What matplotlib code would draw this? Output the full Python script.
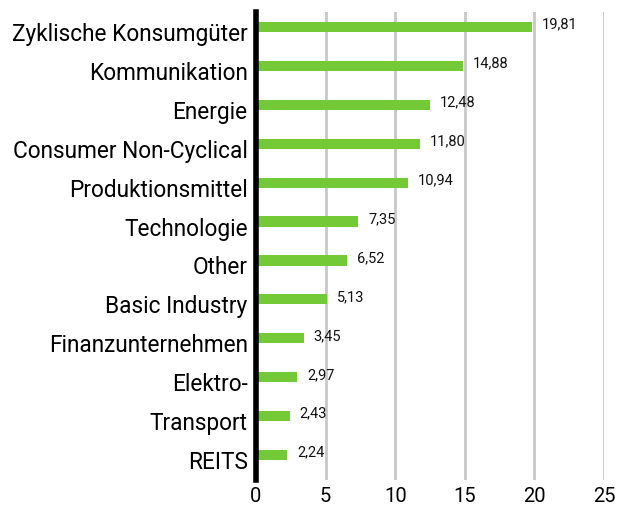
import matplotlib
matplotlib.use("Agg")
import matplotlib.pyplot as plt
import matplotlib.transforms as mtransforms

categories = ["Zyklische Konsumgüter", "Kommunikation", "Energie", "Consumer Non-Cyclical",
              "Produktionsmittel", "Technologie", "Other", "Basic Industry",
              "Finanzunternehmen", "Elektro-", "Transport", "REITS"]
values = [19.81, 14.88, 12.48, 11.80, 10.94, 7.35, 6.52, 5.13, 3.45, 2.97, 2.43, 2.24]
xticks = [0, 5, 10, 15, 20, 25]

plt.rcParams['font.family'] = ['Roboto', 'DejaVu Sans']

fig = plt.figure(figsize=(6.17, 5.08), dpi=100)
ax = fig.add_axes([256/617, 1-480/508, (604-256)/617, (480-12)/508])

n = len(categories)
ypos = list(range(n))[::-1]
ax.barh(ypos, values, height=0.26, color="#74C936", zorder=3)
for y, v in zip(ypos, values):
    ax.text(v + 0.7, y + 0.06, f"{v:.2f}".replace(".", ","), va="center", ha="left",
            fontsize=10.5, color="#111111")

ax.set_xlim(0, 25)
ax.set_ylim(-0.643, n - 1 + 0.386)
ax.set_xticks(xticks)
ax.set_xticklabels([str(t) for t in xticks], fontsize=14.5)
ax.set_yticks(ypos)
ax.set_yticklabels(categories, fontsize=16.3)
ax.tick_params(axis="both", length=0)
ax.tick_params(axis="y", pad=6)
ax.tick_params(axis="x", pad=5)
offset = mtransforms.ScaledTranslation(0, -5/100, fig.dpi_scale_trans)
for lbl in ax.get_yticklabels():
    lbl.set_transform(lbl.get_transform() + offset)
ax.xaxis.grid(True, color="#c8c8c8", linewidth=2, zorder=0)
for s in ["top", "right", "bottom"]:
    ax.spines[s].set_visible(False)
ax.spines["left"].set_linewidth(4)
ax.spines["left"].set_color("black")
ax.spines["left"].set_zorder(4)

fig.savefig("out.png", dpi=100)
